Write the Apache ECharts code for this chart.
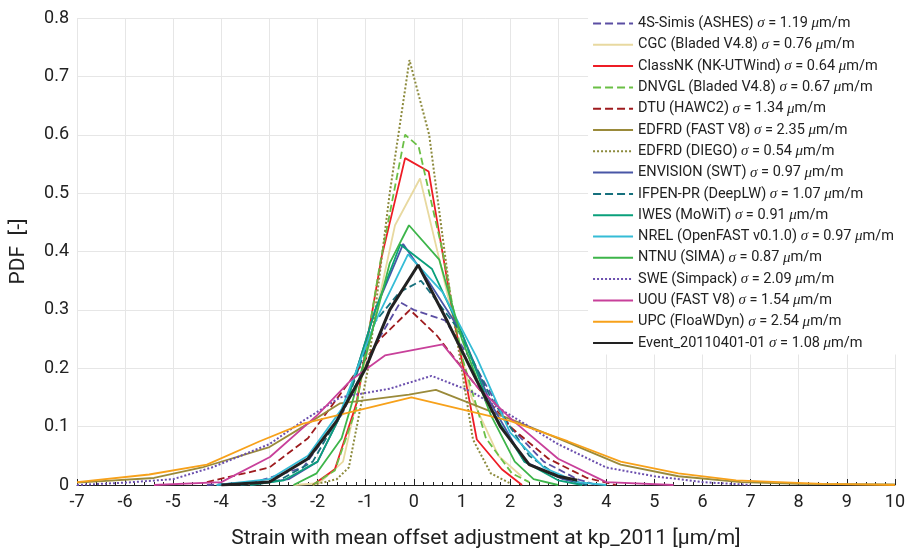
<!DOCTYPE html><html><head><meta charset="utf-8"><script src="https://cdn.jsdelivr.net/npm/echarts@6/dist/echarts.min.js"></script></head><body style="margin:0"><div id="c" style="width:908px;height:554px"></div><script>
const xTicks=[-7,-6,-5,-4,-3,-2,-1,0,1,2,3,4,5,6,7,8,9,10];
const names=['4S-Simis (ASHES)','CGC (Bladed V4.8)','ClassNK (NK-UTWind)','DNVGL (Bladed V4.8)','DTU (HAWC2)','EDFRD (FAST V8)','EDFRD (DIEGO)','ENVISION (SWT)','IFPEN-PR (DeepLW)','IWES (MoWiT)','NREL (OpenFAST v0.1.0)','NTNU (SIMA)','SWE (Simpack)','UOU (FAST V8)','UPC (FloaWDyn)','Event_20110401-01'];
const sigmas=['1.19','0.76','0.64','0.67','1.34','2.35','0.54','0.97','1.07','0.91','0.97','0.87','2.09','1.54','2.54','1.08'];
const colors=['#5b4ea3','#e8d9a0','#ee1c25','#6abf45','#9e1b1e','#9a8a3a','#8c8a3c','#4856a6','#16707d','#0aa07b','#35bcd6','#3db54a','#6b4fae','#c8409a','#f7a11a','#222222'];
const types=['dashed','solid','solid','dashed','dashed','solid','dotted','solid','dashed','solid','solid','solid','dotted','solid','solid','solid'];
const s0=[[-4.3,0],[-3.3,0.005],[-2.3,0.03],[-1.5,0.12],[-0.8,0.24],[-0.28,0.313],[0,0.3],[0.65,0.282],[1.3,0.2],[2,0.1],[2.7,0.04],[3.4,0.01],[3.8,0]];
const s1=[[-2.5,0],[-1.97,0.003],[-1.47,0.04],[-0.9,0.25],[-0.39,0.445],[0.13,0.525],[0.55,0.38],[1.2,0.15],[1.76,0.05],[2.24,0.015]];
const s2=[[-2.1,0],[-1.64,0.027],[-1.19,0.14],[-0.67,0.39],[-0.18,0.56],[0.31,0.537],[0.8,0.3],[1.31,0.078],[1.83,0.027],[2.25,0]];
const s3=[[-2.1,0],[-1.64,0.025],[-1.2,0.13],[-0.7,0.38],[-0.18,0.6],[0.1,0.58],[0.6,0.4],[1.0,0.22],[1.5,0.08],[2.04,0.02],[2.4,0.005]];
const s4=[[-4.3,0.005],[-3,0.03],[-2.2,0.08],[-1.4,0.17],[-0.7,0.25],[-0.08,0.3],[0.48,0.256],[1.2,0.18],[2,0.1],[2.8,0.045],[3.6,0.012],[4.2,0]];
const s5=[[-7,0.004],[-5.4,0.012],[-4.4,0.03],[-3,0.065],[-2.3,0.1],[-1.53,0.14],[-0.1,0.155],[0.46,0.163],[2.1,0.11],[3,0.08],[4.3,0.035],[5.5,0.015],[6.8,0.005],[8,0.002],[10,0.001]];
const s6=[[-2.1,0],[-1.6,0.01],[-1.35,0.03],[-0.95,0.2],[-0.5,0.5],[-0.09,0.728],[0.32,0.6],[0.8,0.3],[1.23,0.078],[1.6,0.02],[2.0,0.003]];
const s7=[[-3.4,0],[-2.6,0.01],[-2,0.04],[-1.4,0.14],[-0.8,0.3],[-0.22,0.413],[0.3,0.35],[1,0.26],[1.6,0.14],[2.3,0.04],[3.1,0.01],[3.6,0]];
const s8=[[-3.6,0],[-2.8,0.008],[-2.1,0.04],[-1.4,0.14],[-0.8,0.28],[-0.3,0.33],[0.15,0.35],[0.9,0.27],[1.6,0.15],[2.4,0.05],[3,0.015],[3.6,0]];
const s9=[[-3.4,0],[-2.7,0.008],[-2,0.04],[-1.4,0.14],[-0.8,0.3],[-0.28,0.412],[0.38,0.37],[1,0.26],[1.6,0.13],[2.3,0.04],[3,0.008],[3.5,0]];
const s10=[[-4.1,0],[-3,0.01],[-2.2,0.05],[-1.5,0.13],[-0.8,0.28],[-0.12,0.395],[0.6,0.33],[1.3,0.22],[2,0.09],[2.7,0.03],[3.4,0.005],[4,0]];
const s11=[[-2.5,0],[-2.02,0.02],[-1.5,0.08],[-1,0.22],[-0.5,0.38],[-0.1,0.445],[0.53,0.386],[1.0,0.25],[1.6,0.12],[2.1,0.04],[2.49,0.01],[3,0]];
const s12=[[-7,0],[-6,0.004],[-5,0.01],[-4.2,0.03],[-3,0.07],[-2.3,0.11],[-1.53,0.15],[-0.5,0.165],[0.37,0.187],[1.2,0.16],[2,0.12],[3,0.07],[4,0.03],[5,0.015],[6,0.005],[7,0]];
const s13=[[-5.4,0],[-4,0.005],[-2.99,0.048],[-2,0.12],[-1.3,0.18],[-0.6,0.222],[0.6,0.241],[1.3,0.17],[2.04,0.112],[3,0.045],[4,0.005],[5.4,0]];
const s14=[[-7,0.005],[-5.5,0.018],[-4.3,0.035],[-3.2,0.075],[-2.3,0.105],[-0.05,0.15],[2,0.11],[3.2,0.075],[4.3,0.04],[5.5,0.02],[6.7,0.008],[8.5,0.002],[10,0]];
const s15=[[-4,0],[-3,0.005],[-2.2,0.045],[-1.6,0.11],[-1,0.2],[-0.5,0.3],[0.09,0.377],[0.7,0.28],[1.3,0.18],[1.8,0.1],[2.4,0.035],[3,0.015],[3.4,0.008]];
const data=[s0,s1,s2,s3,s4,s5,s6,s7,s8,s9,s10,s11,s12,s13,s14,s15];
const series=names.map((n,i)=>({name:n,type:'line',data:data[i],symbol:'none',z:i==15?10:2,lineStyle:{color:colors[i],type:types[i],width:i==15?3:(types[i]=='dotted'?2:1.8)},itemStyle:{color:colors[i]}}));
const sig={};names.forEach((n,i)=>sig[n]=sigmas[i]);
echarts.init(document.getElementById('c')).setOption({animation:false,
grid:{left:77,right:13,top:18,bottom:65},
legend:{orient:'vertical',right:8,top:12,itemGap:6.3,itemWidth:40,itemHeight:14,backgroundColor:'#fff',padding:[4,6,4,4],
itemStyle:{color:'transparent',borderWidth:0,opacity:0},
textStyle:{fontFamily:'Roboto',fontSize:14.5,color:'#222',rich:{i:{fontStyle:'italic',fontFamily:'Liberation Serif',fontSize:15,color:'#222'}}},
formatter:n=>n+' {i|σ} = '+sig[n]+' {i|μ}m/m'},
xAxis:{type:'value',min:-7,max:10,interval:1,name:'Strain with mean offset adjustment at kp_2011 [μm/m]',nameLocation:'middle',nameGap:43,
nameTextStyle:{fontSize:21,color:'#222',fontFamily:'Roboto'},
axisLine:{onZero:false,lineStyle:{color:'#222'}},axisTick:{show:true,inside:true,length:6,lineStyle:{color:'#222'}},minorTick:{show:true,splitNumber:5,length:3,lineStyle:{color:'#222'}},
axisLabel:{fontSize:18,color:'#222',fontFamily:'Roboto',formatter:v=>xTicks.includes(v)?String(v):''},splitLine:{show:true,lineStyle:{color:'#e6e6e6'}}},
yAxis:{type:'value',min:0,max:0.8,interval:0.1,name:'PDF  [-]',nameLocation:'middle',nameGap:48,nameTextStyle:{fontSize:21,color:'#222',fontFamily:'Roboto'},
axisLine:{show:false,onZero:false},axisTick:{show:false},
axisLabel:{fontSize:18,color:'#222',fontFamily:'Roboto',formatter:v=>v===0?'0':String(+v.toFixed(1))},splitLine:{lineStyle:{color:'#e6e6e6'}}},
series:series});
</script></body></html>
